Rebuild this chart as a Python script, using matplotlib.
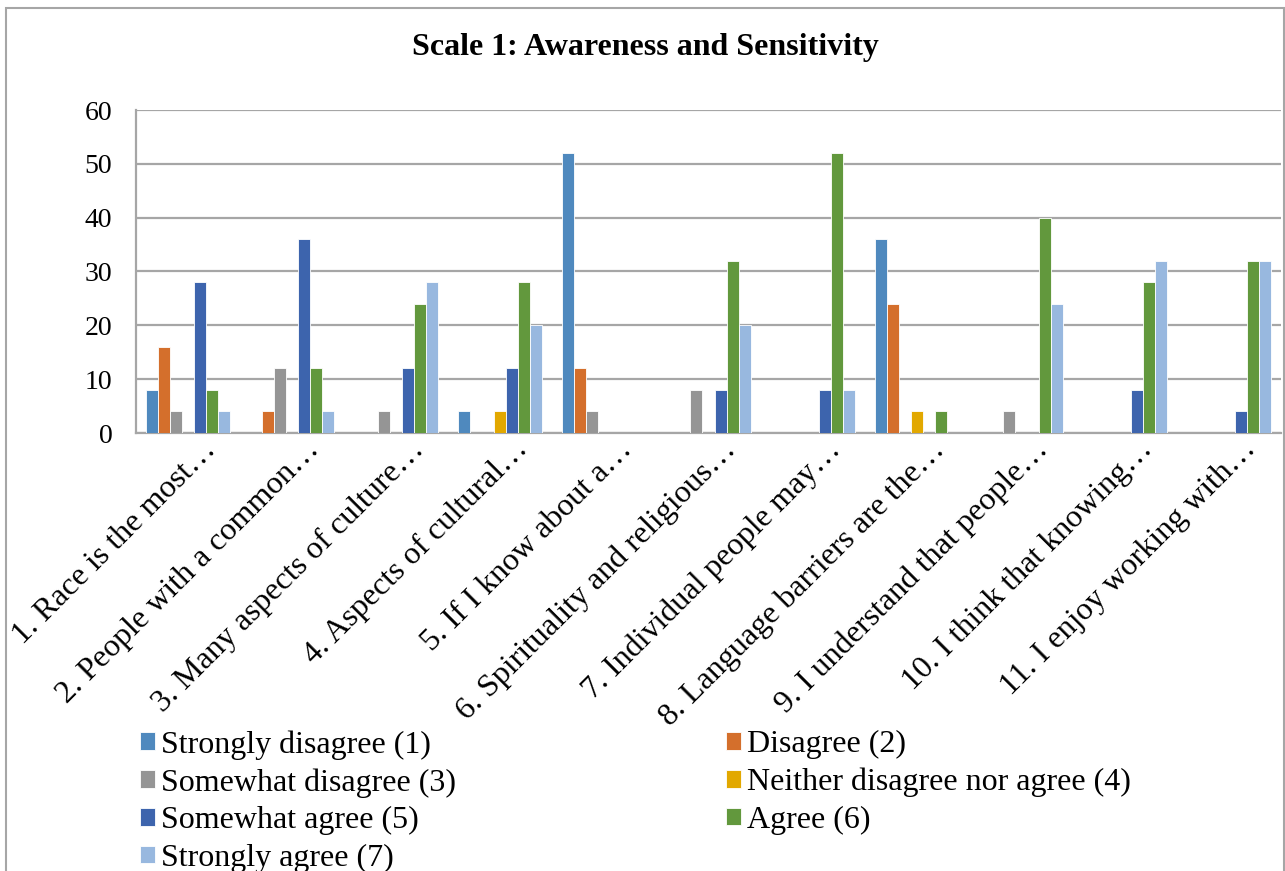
import numpy as np
import matplotlib
matplotlib.use("Agg")
import matplotlib.pyplot as plt
from matplotlib.patches import Rectangle
from matplotlib.transforms import ScaledTranslation

categories = [
    "1. Race is the most…",
    "2. People with a common…",
    "3. Many aspects of culture…",
    "4. Aspects of cultural…",
    "5. If I know about a…",
    "6. Spirituality and religious…",
    "7. Individual people may…",
    "8. Language barriers are the…",
    "9. I understand that people…",
    "10. I think that knowing…",
    "11. I enjoy working with…",
]

series_names = [
    "Strongly disagree (1)",
    "Disagree (2)",
    "Somewhat disagree (3)",
    "Neither disagree nor agree (4)",
    "Somewhat agree (5)",
    "Agree (6)",
    "Strongly agree (7)",
]

strongly_disagree = [8, 0, 0, 4, 52, 0, 0, 36, 0, 0, 0]
disagree = [16, 4, 0, 0, 12, 0, 0, 24, 0, 0, 0]
somewhat_disagree = [4, 12, 4, 0, 4, 8, 0, 0, 4, 0, 0]
neither = [0, 0, 0, 4, 0, 0, 0, 4, 0, 0, 0]
somewhat_agree = [28, 36, 12, 12, 0, 8, 8, 0, 0, 8, 4]
agree = [8, 12, 24, 28, 0, 32, 52, 4, 40, 28, 32]
strongly_agree = [4, 4, 28, 20, 0, 20, 8, 0, 24, 32, 32]

series_values = [strongly_disagree, disagree, somewhat_disagree, neither,
                 somewhat_agree, agree, strongly_agree]
colors = ["#4F89BE", "#D46F2C", "#959595", "#E2A800",
          "#3D64AD", "#62983D", "#98B8DF"]

plt.rcParams["font.family"] = ["Liberation Serif", "DejaVu Serif"]

W, H = 1285, 871
fig = plt.figure(figsize=(W / 100, H / 100), dpi=100)

# outer chart frame (bottom edge is cropped off in the reference)
fig.add_artist(Rectangle((6 / W, -0.2), 1278 / W, (H - 8) / H + 0.2,
                         transform=fig.transFigure, fill=False,
                         edgecolor="#A6A6A6", lw=1.5))

ax = fig.add_axes([136 / W, (H - 433) / H, 1145 / W, 323 / H])

n = len(series_names)
x = np.arange(len(categories))
bar_w = 1 / (n + 1.67)
bars = []
for i, (vals, c) in enumerate(zip(series_values, colors)):
    b = ax.bar(x + (i - (n - 1) / 2) * bar_w, vals, bar_w, color=c,
               edgecolor="white", linewidth=0.6, zorder=3, label=series_names[i])
    bars.append(b)

ax.set_xlim(-0.5, len(categories) - 0.5)
ax.set_ylim(0, 60)
ax.set_yticks(range(0, 61, 10))
ax.yaxis.grid(True, color="#A6A6A6", lw=1.6, zorder=0)
ax.set_axisbelow(True)
for s in ["top", "right"]:
    ax.spines[s].set_visible(False)
ax.spines["left"].set_color("#A6A6A6")
ax.spines["left"].set_linewidth(1.6)
ax.spines["bottom"].set_color("#A6A6A6")
ax.spines["bottom"].set_linewidth(1.6)
ax.tick_params(axis="both", length=0)
ax.tick_params(axis="y", pad=17, labelsize=20)

ax.set_xticks(x)
ax.set_xticklabels(categories, rotation=45, ha="right", va="top",
                   rotation_mode="anchor", fontsize=23)
offset = ScaledTranslation(13 / 100, 3 / 100, fig.dpi_scale_trans)
for lbl in ax.get_xticklabels():
    lbl.set_transform(lbl.get_transform() + offset)

fig.text(645 / W, 1 - 48 / H, "Scale 1: Awareness and Sensitivity",
         ha="center", va="center", fontsize=23, fontweight="bold")

# legend in two columns, filled row by row like the original
left_idx = [0, 2, 4, 6]
right_idx = [1, 3, 5]
common = dict(frameon=False, fontsize=23, handlelength=0.47, handleheight=0.47,
              handletextpad=0.19, labelspacing=0.27, borderpad=0, borderaxespad=0,
              loc="upper left")
fig.legend([bars[i] for i in left_idx], [series_names[i] for i in left_idx],
           bbox_to_anchor=(140 / W, 1 - 730 / H), **common)
fig.legend([bars[i] for i in right_idx], [series_names[i] for i in right_idx],
           bbox_to_anchor=(726 / W, 1 - 730 / H), **common)

fig.savefig("out.png", dpi=100)
